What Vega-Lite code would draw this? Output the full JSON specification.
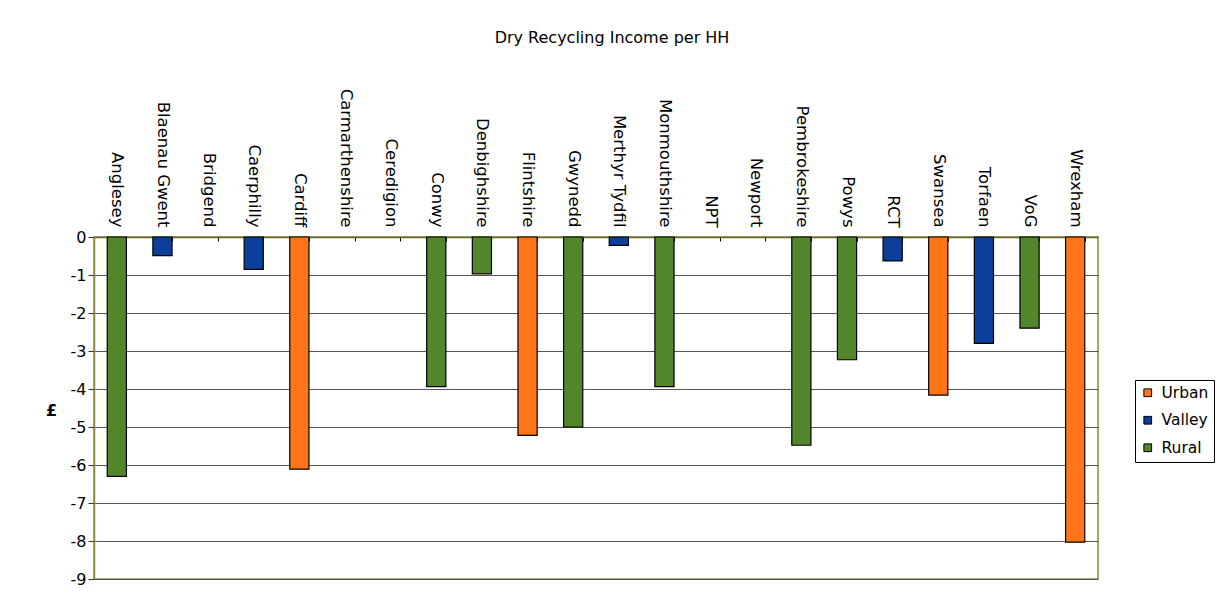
{
  "$schema": "https://vega.github.io/schema/vega-lite/v6.json",
  "width": 1004,
  "height": 342,
  "autosize": {"type": "none"},
  "padding": {"left": 94, "top": 237, "right": 119, "bottom": 27},
  "background": "white",
  "title": {
    "text": "Dry Recycling Income per HH",
    "font": "DejaVu Sans",
    "fontSize": 16,
    "fontWeight": "normal",
    "color": "#000000",
    "anchor": "middle",
    "offset": 42,
    "dx": 16
  },
  "data": {
    "values": [
      {"authority": "Anglesey", "type": "Rural", "income": -6.3},
      {"authority": "Blaenau Gwent", "type": "Valley", "income": -0.49},
      {"authority": "Bridgend", "type": null, "income": null},
      {"authority": "Caerphilly", "type": "Valley", "income": -0.85},
      {"authority": "Cardiff", "type": "Urban", "income": -6.11},
      {"authority": "Carmarthenshire", "type": null, "income": null},
      {"authority": "Ceredigion", "type": null, "income": null},
      {"authority": "Conwy", "type": "Rural", "income": -3.94},
      {"authority": "Denbighshire", "type": "Rural", "income": -0.97},
      {"authority": "Flintshire", "type": "Urban", "income": -5.22},
      {"authority": "Gwynedd", "type": "Rural", "income": -5.0},
      {"authority": "Merthyr Tydfil", "type": "Valley", "income": -0.22},
      {"authority": "Monmouthshire", "type": "Rural", "income": -3.94},
      {"authority": "NPT", "type": null, "income": null},
      {"authority": "Newport", "type": null, "income": null},
      {"authority": "Pembrokeshire", "type": "Rural", "income": -5.48},
      {"authority": "Powys", "type": "Rural", "income": -3.23},
      {"authority": "RCT", "type": "Valley", "income": -0.63},
      {"authority": "Swansea", "type": "Urban", "income": -4.16},
      {"authority": "Torfaen", "type": "Valley", "income": -2.8},
      {"authority": "VoG", "type": "Rural", "income": -2.4},
      {"authority": "Wrexham", "type": "Urban", "income": -8.03}
    ]
  },
  "mark": {"type": "bar", "stroke": "#000000", "strokeWidth": 1.2},
  "encoding": {
    "x": {
      "field": "authority",
      "type": "nominal",
      "sort": null,
      "scale": {
        "domain": ["Anglesey", "Blaenau Gwent", "Bridgend", "Caerphilly", "Cardiff", "Carmarthenshire", "Ceredigion", "Conwy", "Denbighshire", "Flintshire", "Gwynedd", "Merthyr Tydfil", "Monmouthshire", "NPT", "Newport", "Pembrokeshire", "Powys", "RCT", "Swansea", "Torfaen", "VoG", "Wrexham"],
        "paddingInner": 0.58,
        "paddingOuter": 0.29
      },
      "axis": {
        "orient": "top",
        "title": null,
        "labelAngle": 90,
        "labelAlign": "right",
        "labelBaseline": "middle",
        "labelPadding": 14,
        "labelFontSize": 16.5,
        "labelColor": "#000000",
        "tickBand": "extent",
        "tickSize": -4,
        "tickColor": "#000000",
        "domainColor": "#66662e",
        "domainWidth": 1.5,
        "grid": false
      }
    },
    "y": {
      "field": "income",
      "type": "quantitative",
      "scale": {"domain": [-9, 0], "nice": false},
      "axis": {
        "title": "£",
        "titleAngle": 0,
        "titleFontWeight": "bold",
        "titleFontSize": 16,
        "titleColor": "#000000",
        "titleX": -43,
        "titleY": 173,
        "titleAlign": "center",
        "titleBaseline": "middle",
        "values": [0, -1, -2, -3, -4, -5, -6, -7, -8, -9],
        "labelExpr": "toString(datum.value)",
        "labelFontSize": 16,
        "labelColor": "#000000",
        "labelPadding": 2,
        "tickSize": 6,
        "tickColor": "#333333",
        "domainColor": "#8c8c3c",
        "domainWidth": 1.5,
        "grid": true,
        "gridColor": "#555555",
        "gridWidth": 1
      }
    },
    "color": {
      "field": "type",
      "type": "nominal",
      "scale": {
        "domain": ["Urban", "Valley", "Rural"],
        "range": ["#ff7518", "#0b3f9b", "#52862b"]
      },
      "legend": {
        "title": null,
        "orient": "none",
        "legendX": 1041,
        "legendY": 143,
        "strokeColor": "#000000",
        "padding": 5,
        "symbolType": "square",
        "symbolSize": 60,
        "symbolStrokeColor": "#000000",
        "symbolStrokeWidth": 1,
        "labelFontSize": 15.5,
        "labelColor": "#000000",
        "labelOffset": 6,
        "rowPadding": 10.5
      }
    }
  },
  "config": {
    "font": "DejaVu Sans",
    "view": {"stroke": "#8c8c3c", "strokeWidth": 1.5}
  }
}
